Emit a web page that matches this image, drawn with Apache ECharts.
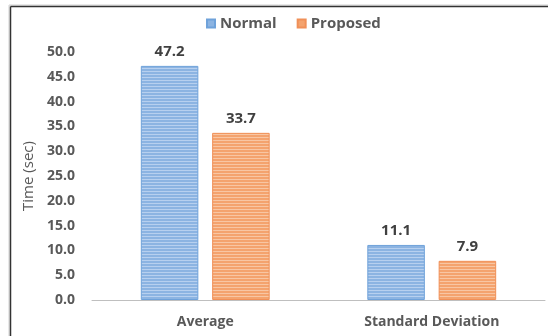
<!DOCTYPE html>
<html>
<head>
<meta charset="utf-8">
<script src="https://cdn.jsdelivr.net/npm/echarts@6/dist/echarts.min.js"></script>
<style>
  html, body { margin: 0; padding: 0; background: #fff; }
  #chart { width: 548px; height: 336px; }
</style>
</head>
<body>
<div id="chart"></div>
<script>
const categories = ['Average', 'Standard Deviation'];
const normal = [47.2, 11.1];
const proposed = [33.7, 7.9];
const seriesNames = ['Normal', 'Proposed'];

// striped fill like the office "horizontal lines" pattern
function stripes(dark, light) {
  const c = document.createElement('canvas');
  c.width = 4;
  c.height = 3;
  const ctx = c.getContext('2d');
  ctx.fillStyle = dark;
  ctx.fillRect(0, 0, 4, 3);
  ctx.fillStyle = light;
  ctx.fillRect(0, 2, 4, 1);
  return { image: c, repeat: 'repeat' };
}

const textColor = '#595959';
const font = '"Open Sans", "Liberation Sans", sans-serif';

const chart = echarts.init(document.getElementById('chart'));
chart.setOption({
  animation: false,
  textStyle: { fontFamily: font },
  grid: { left: 92, right: 3, top: 52, bottom: 36 },
  legend: {
    top: 11,
    left: 201,
    itemWidth: 8,
    itemHeight: 8,
    itemGap: 20,
    textStyle: { color: textColor, fontWeight: 'bold', fontSize: 15, fontFamily: font },
    data: [
      { name: seriesNames[0], icon: 'rect', itemStyle: { color: '#8CB4E2' } },
      { name: seriesNames[1], icon: 'rect', itemStyle: { color: '#F4A36E' } }
    ]
  },
  xAxis: {
    type: 'category',
    data: categories,
    axisLine: { lineStyle: { color: '#BFBFBF', width: 1 } },
    axisTick: { show: false },
    axisLabel: { color: textColor, fontWeight: 'bold', fontSize: 14, margin: 15, fontFamily: font }
  },
  yAxis: {
    type: 'value',
    min: 0,
    max: 50,
    interval: 5,
    name: 'Time (sec)',
    nameLocation: 'middle',
    nameGap: 52,
    nameTextStyle: { color: textColor, fontSize: 15, fontFamily: font },
    axisLine: { show: false },
    axisTick: { show: false },
    splitLine: { show: false },
    axisLabel: {
      color: textColor,
      fontWeight: 'bold',
      fontSize: 14,
      margin: 17,
      fontFamily: font,
      formatter: (v) => v.toFixed(1)
    }
  },
  series: [
    {
      name: seriesNames[0],
      type: 'bar',
      data: normal,
      barWidth: '25.4%',
      barGap: '24%',
      itemStyle: {
        color: stripes('#8CB4E2', '#B7D0EF'),
        borderColor: '#6FA2DA',
        borderWidth: 1
      },
      label: {
        show: true,
        position: 'top',
        distance: 7,
        color: '#404040',
        fontWeight: 'bold',
        fontSize: 15,
        fontFamily: font,
        formatter: (p) => p.value.toFixed(1)
      }
    },
    {
      name: seriesNames[1],
      type: 'bar',
      data: proposed,
      barWidth: '25.4%',
      itemStyle: {
        color: stripes('#F4A36E', '#F8C6A3'),
        borderColor: '#F09058',
        borderWidth: 1
      },
      label: {
        show: true,
        position: 'top',
        distance: 7,
        color: '#404040',
        fontWeight: 'bold',
        fontSize: 15,
        fontFamily: font,
        formatter: (p) => p.value.toFixed(1)
      }
    }
  ],
  graphic: [
    { type: 'line', shape: { x1: 9, y1: 5, x2: 548, y2: 5 }, style: { stroke: '#D0D0D0', lineWidth: 1 } },
    { type: 'line', shape: { x1: 9, y1: 5, x2: 9, y2: 336 }, style: { stroke: '#D0D0D0', lineWidth: 1 } },
    { type: 'line', shape: { x1: 10.5, y1: 6.5, x2: 548, y2: 6.5 }, style: { stroke: '#333', lineWidth: 1.5 } },
    { type: 'line', shape: { x1: 10.5, y1: 6.5, x2: 10.5, y2: 336 }, style: { stroke: '#333', lineWidth: 1.5 } }
  ]
});
</script>
</body>
</html>
